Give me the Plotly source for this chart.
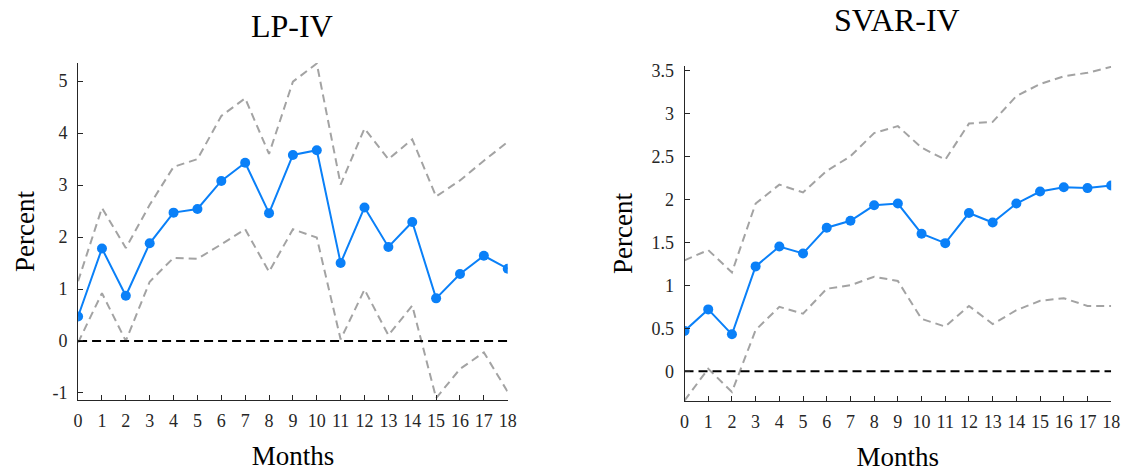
import plotly.graph_objects as go

months = list(range(19))

lp_point = [0.47, 1.78, 0.87, 1.88, 2.47, 2.54, 3.08, 3.43, 2.46, 3.58,
            3.67, 1.50, 2.57, 1.81, 2.29, 0.82, 1.29, 1.64, 1.39]
lp_upper = [1.15, 2.56, 1.79, 2.62, 3.35, 3.50, 4.33, 4.67, 3.60, 4.99,
            5.34, 3.01, 4.09, 3.50, 3.88, 2.78, 3.09, 3.47, 3.83]
lp_lower = [-0.03, 0.92, 0.00, 1.14, 1.60, 1.58, 1.86, 2.15, 1.33, 2.15,
            1.99, 0.03, 0.99, 0.11, 0.68, -1.10, -0.54, -0.22, -0.98]

svar_point = [0.47, 0.72, 0.43, 1.22, 1.45, 1.37, 1.67, 1.75, 1.93, 1.95,
              1.60, 1.49, 1.84, 1.73, 1.95, 2.09, 2.14, 2.13, 2.16]
svar_upper = [1.29, 1.41, 1.15, 1.95, 2.17, 2.08, 2.33, 2.50, 2.77, 2.85,
              2.60, 2.46, 2.88, 2.90, 3.20, 3.34, 3.43, 3.47, 3.54]
svar_lower = [-0.34, 0.03, -0.24, 0.48, 0.75, 0.67, 0.96, 1.00, 1.10, 1.05,
              0.61, 0.52, 0.76, 0.55, 0.71, 0.82, 0.85, 0.76, 0.76]

lp_yticks = [-1, 0, 1, 2, 3, 4, 5]
lp_yticklabels = ["-1", "0", "1", "2", "3", "4", "5"]
svar_yticks = [0, 0.5, 1, 1.5, 2, 2.5, 3, 3.5]
svar_yticklabels = ["0", "0.5", "1", "1.5", "2", "2.5", "3", "3.5"]
month_labels = [str(m) for m in months]

W, H = 1135, 472
BLUE = "#0a80f8"
GRAY = "#a3a3a3"
AX = "#262626"
FONT = "Liberation Serif"

fig = go.Figure()

def add_panel(xa, ya, point, upper, lower):
    for band in (upper, lower):
        fig.add_trace(go.Scatter(x=months, y=band, mode="lines", xaxis=xa, yaxis=ya,
                                 line=dict(color=GRAY, width=2, dash="8px,5px"),
                                 showlegend=False, hoverinfo="skip"))
    fig.add_trace(go.Scatter(x=[months[0], months[-1]], y=[0, 0], mode="lines",
                             xaxis=xa, yaxis=ya,
                             line=dict(color="black", width=2, dash="9px,5px"),
                             showlegend=False, hoverinfo="skip"))
    fig.add_trace(go.Scatter(x=months, y=point, mode="lines+markers", xaxis=xa, yaxis=ya,
                             line=dict(color=BLUE, width=2),
                             marker=dict(color=BLUE, size=10),
                             showlegend=False))

add_panel("x", "y", lp_point, lp_upper, lp_lower)
add_panel("x2", "y2", svar_point, svar_upper, svar_lower)

def px_x(a, b):
    return [a / W, b / W]

def px_y(top, bottom):
    return [1 - bottom / H, 1 - top / H]

common_x = dict(range=[0, 18], tickmode="array", tickvals=months, ticktext=month_labels,
                showline=True, linecolor=AX, linewidth=1, ticks="inside", ticklen=5,
                tickcolor=AX, showgrid=False, zeroline=False, ticklabelstandoff=4,
                tickfont=dict(family=FONT, size=18, color=AX),
                title=dict(text="Months", font=dict(family=FONT, size=27, color="black"),
                           standoff=16))
common_y = dict(showline=True, linecolor=AX, linewidth=1, ticks="inside", ticklen=5,
                tickcolor=AX, showgrid=False, zeroline=False, ticklabelstandoff=6,
                tickfont=dict(family=FONT, size=18, color=AX),
                title=dict(text="Percent", font=dict(family=FONT, size=27, color="black"),
                           standoff=10))

fig.update_layout(
    width=W, height=H,
    margin=dict(l=0, r=0, t=0, b=0),
    paper_bgcolor="white", plot_bgcolor="white",
    xaxis=dict(domain=px_x(74, 509), anchor="y", **common_x),
    yaxis=dict(domain=px_y(59, 402), anchor="x", range=[-1.14, 5.35],
               tickmode="array", tickvals=lp_yticks, ticktext=lp_yticklabels, **common_y),
    xaxis2=dict(domain=px_x(688, 1120), anchor="y2", **common_x),
    yaxis2=dict(domain=px_y(62, 403), anchor="x2", range=[-0.347, 3.55],
                tickmode="array", tickvals=svar_yticks, ticktext=svar_yticklabels,
                **common_y),
    annotations=[
        dict(text="LP-IV", x=291 / W, y=1 - 21 / H, xref="paper", yref="paper",
             showarrow=False, xanchor="center", yanchor="middle",
             font=dict(family=FONT, size=32, color="black")),
        dict(text="SVAR-IV", x=903 / W, y=1 - 15 / H, xref="paper", yref="paper",
             showarrow=False, xanchor="center", yanchor="middle",
             font=dict(family=FONT, size=32, color="black")),
    ],
)

fig.write_html("out.html")
